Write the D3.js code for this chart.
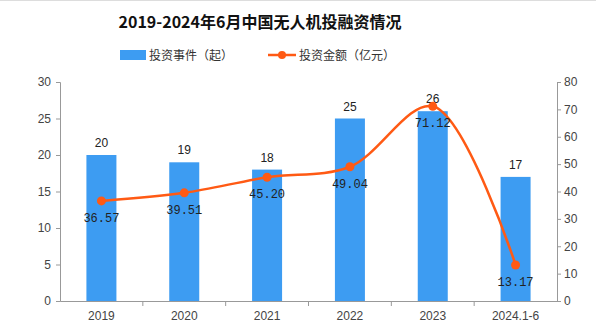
<!doctype html>
<html>
<head>
<meta charset="utf-8">
<script src="https://cdnjs.cloudflare.com/ajax/libs/d3/7.8.5/d3.min.js"></script>
<style>
  body { margin: 0; background: #fff; }
  svg { display: block; }
</style>
</head>
<body>
<div id="chart"></div>
<script>
  // data
  const years = ["2019", "2020", "2021", "2022", "2023", "2024.1-6"];
  const deals = [20, 19, 18, 25, 26, 17];            // 投资事件（起）
  const amounts = [36.57, 39.51, 45.20, 49.04, 71.12, 13.17]; // 投资金额（亿元）
  const leftTicks = [0, 5, 10, 15, 20, 25, 30];
  const rightTicks = [0, 10, 20, 30, 40, 50, 60, 70, 80];

  const W = 596, H = 326;
  const m = { left: 60, right: 39, top: 82, bottom: 25 };
  const cjk = "'Noto Sans CJK SC', sans-serif";

  const svg = d3.select("#chart").append("svg")
    .attr("width", W).attr("height", H);

  svg.append("line").attr("x1", 0).attr("x2", W).attr("y1", 0.5).attr("y2", 0.5)
    .attr("stroke", "#ddd");

  const x = d3.scaleBand().domain(years).range([m.left, W - m.right]);
  const yL = d3.scaleLinear().domain([0, 30]).range([H - m.bottom, m.top]);
  const yR = d3.scaleLinear().domain([0, 80]).range([H - m.bottom, m.top]);

  // title
  svg.append("text")
    .attr("x", 260).attr("y", 28)
    .attr("text-anchor", "middle")
    .style("font-family", cjk).style("font-weight", "bold").style("font-size", "16px")
    .attr("fill", "#111")
    .text("2019-2024年6月中国无人机投融资情况");

  // legend
  svg.append("rect").attr("x", 120).attr("y", 50).attr("width", 26).attr("height", 10).attr("fill", "#3d9cf2");
  svg.append("text").attr("x", 149).attr("y", 59.5)
    .style("font-family", cjk).style("font-size", "12px").attr("fill", "#333")
    .text("投资事件（起）");
  svg.append("line").attr("x1", 268).attr("x2", 296).attr("y1", 55).attr("y2", 55)
    .attr("stroke", "#ff5a14").attr("stroke-width", 2.5);
  svg.append("circle").attr("cx", 282).attr("cy", 55).attr("r", 4).attr("fill", "#ff5a14");
  svg.append("text").attr("x", 299).attr("y", 59.5)
    .style("font-family", cjk).style("font-size", "12px").attr("fill", "#333")
    .text("投资金额（亿元）");

  // axes
  const axisStyle = g => {
    g.selectAll("path, line").attr("stroke", "#999");
    g.selectAll("text").attr("fill", "#444")
      .style("font-family", "'Liberation Sans', Arial, sans-serif").style("font-size", "12px");
  };

  svg.append("g").attr("transform", `translate(${m.left},0)`)
    .call(d3.axisLeft(yL).tickValues(leftTicks).tickSizeOuter(5).tickSize(4).tickPadding(5))
    .call(axisStyle);

  svg.append("g").attr("transform", `translate(${W - m.right},0)`)
    .call(d3.axisRight(yR).tickValues(rightTicks).tickSize(4).tickPadding(3))
    .call(axisStyle);

  const xAxis = svg.append("g").attr("transform", `translate(0,${H - m.bottom})`)
    .call(d3.axisBottom(x).tickSize(0).tickPadding(10))
    .call(axisStyle);
  // tick marks at band boundaries
  xAxis.selectAll(".bound").data(years.slice(1)).join("line")
    .attr("x1", d => x(d)).attr("x2", d => x(d))
    .attr("y1", 0).attr("y2", 5).attr("stroke", "#999");

  // bars
  const bw = 30;
  svg.selectAll(".bar").data(deals).join("rect")
    .attr("x", (d, i) => x(years[i]) + x.bandwidth() / 2 - bw / 2)
    .attr("y", d => yL(d))
    .attr("width", bw)
    .attr("height", d => yL(0) - yL(d))
    .attr("fill", "#3d9cf2");

  svg.selectAll(".barlab").data(deals).join("text")
    .attr("x", (d, i) => x(years[i]) + x.bandwidth() / 2)
    .attr("y", d => yL(d) - 8)
    .attr("text-anchor", "middle")
    .style("font-family", "'Liberation Sans', Arial, sans-serif").style("font-size", "12px")
    .attr("fill", "#222")
    .text(d => d);

  // line
  const line = d3.line()
    .x((d, i) => x(years[i]) + x.bandwidth() / 2)
    .y(d => yR(d))
    .curve(d3.curveCatmullRom.alpha(0.5));

  svg.append("path").datum(amounts)
    .attr("d", line)
    .attr("fill", "none")
    .attr("stroke", "#ff5a14")
    .attr("stroke-width", 2.5);

  svg.selectAll(".pt").data(amounts).join("circle")
    .attr("cx", (d, i) => x(years[i]) + x.bandwidth() / 2)
    .attr("cy", d => yR(d))
    .attr("r", 4.5)
    .attr("fill", "#ff5a14");

  svg.selectAll(".linelab").data(amounts).join("text")
    .attr("x", (d, i) => x(years[i]) + x.bandwidth() / 2)
    .attr("y", d => yR(d) + 21)
    .attr("text-anchor", "middle")
    .style("font-family", "'Liberation Mono', 'DejaVu Sans Mono', monospace").style("font-size", "12px")
    .attr("fill", "#222")
    .text(d => d.toFixed(2));
</script>
</body>
</html>
